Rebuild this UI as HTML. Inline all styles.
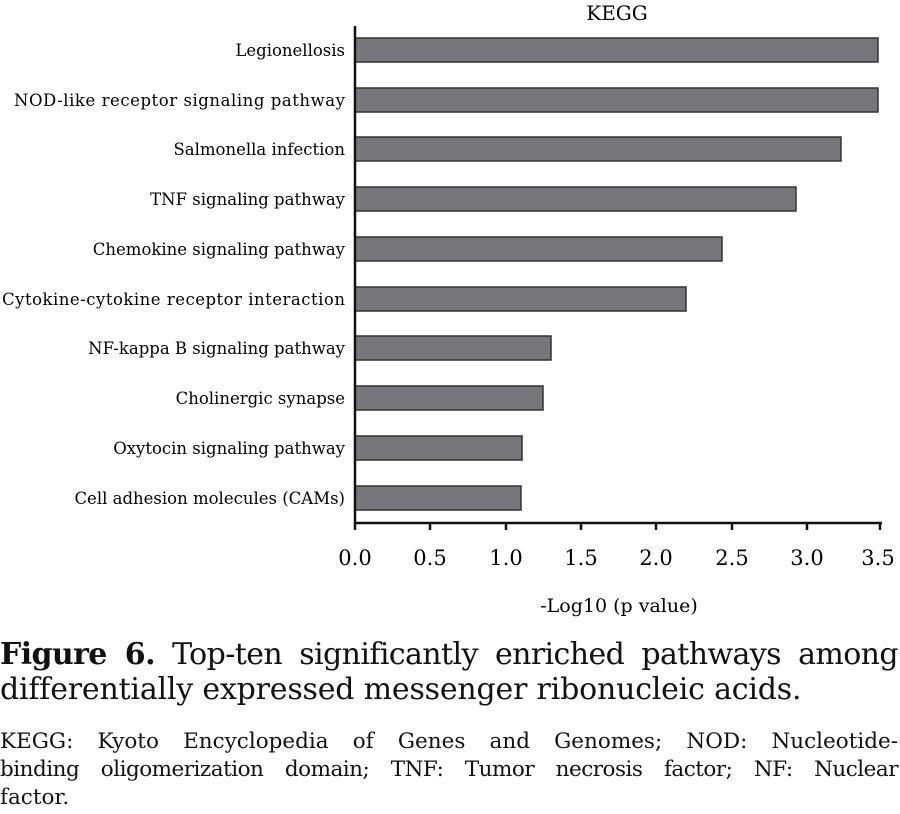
<!DOCTYPE html>
<html><head><meta charset="utf-8"><style>
body{margin:0;background:#fff;width:900px;height:814px;overflow:hidden;font-family:"DejaVu Serif",serif;color:#111}
.l{position:absolute;left:0;width:898px;text-align:justify;text-align-last:justify;white-space:nowrap}
</style></head><body>
<svg width="900" height="630" style="position:absolute;left:0;top:0" font-family="DejaVu Serif, serif">
<text x="617" y="20" font-size="20" text-anchor="middle">KEGG</text>
<g fill="#77777b" stroke="#333" stroke-width="1.5">
<rect x="355" y="38" width="523" height="24"/>
<rect x="355" y="88" width="523" height="24"/>
<rect x="355" y="137" width="486" height="24"/>
<rect x="355" y="187" width="441" height="24"/>
<rect x="355" y="237" width="367" height="24"/>
<rect x="355" y="287" width="331" height="24"/>
<rect x="355" y="336" width="196" height="24"/>
<rect x="355" y="386" width="188" height="24"/>
<rect x="355" y="436" width="167" height="24"/>
<rect x="355" y="486" width="166" height="24"/>
</g>
<g font-size="16.5" text-anchor="end">
<text x="345" y="56">Legionellosis</text>
<text x="345" y="106" textLength="331">NOD-like receptor signaling pathway</text>
<text x="345" y="155">Salmonella infection</text>
<text x="345" y="205">TNF signaling pathway</text>
<text x="345" y="255">Chemokine signaling pathway</text>
<text x="345" y="305" textLength="343">Cytokine-cytokine receptor interaction</text>
<text x="345" y="354">NF-kappa B signaling pathway</text>
<text x="345" y="404">Cholinergic synapse</text>
<text x="345" y="454">Oxytocin signaling pathway</text>
<text x="345" y="504">Cell adhesion molecules (CAMs)</text>
</g>
<g stroke="#111" stroke-width="2.5">
<line x1="355" y1="26" x2="355" y2="524"/>
<line x1="354" y1="523" x2="882" y2="523"/>
<line x1="355" y1="523" x2="355" y2="530"/>
<line x1="430" y1="523" x2="430" y2="530"/>
<line x1="506" y1="523" x2="506" y2="530"/>
<line x1="581" y1="523" x2="581" y2="530"/>
<line x1="656" y1="523" x2="656" y2="530"/>
<line x1="732" y1="523" x2="732" y2="530"/>
<line x1="807" y1="523" x2="807" y2="530"/>
<line x1="880" y1="523" x2="880" y2="530"/>
</g>
<g font-size="21" text-anchor="middle">
<text x="355" y="565">0.0</text><text x="430" y="565">0.5</text><text x="506" y="565">1.0</text>
<text x="581" y="565">1.5</text><text x="656" y="565">2.0</text><text x="732" y="565">2.5</text>
<text x="807" y="565">3.0</text><text x="878" y="565">3.5</text>
</g>
<text x="619" y="612" font-size="19" text-anchor="middle">-Log10 (p value)</text>
</svg>
<div class="l" style="top:637px;font-size:30px;line-height:35px;letter-spacing:-0.6px"><b>Figure 6.</b> Top-ten significantly enriched pathways among</div>
<div class="l" style="top:672px;font-size:30px;line-height:35px;letter-spacing:-0.2px;text-align-last:left">differentially expressed messenger ribonucleic acids.</div>
<div class="l" style="top:728px;font-size:21.5px;line-height:28px">KEGG: Kyoto Encyclopedia of Genes and Genomes; NOD: Nucleotide-</div>
<div class="l" style="top:756px;font-size:21.5px;line-height:28px;letter-spacing:-0.5px">binding oligomerization domain; TNF: Tumor necrosis factor; NF: Nuclear</div>
<div class="l" style="top:784px;font-size:21.5px;line-height:28px;text-align-last:left">factor.</div>
</body></html>
